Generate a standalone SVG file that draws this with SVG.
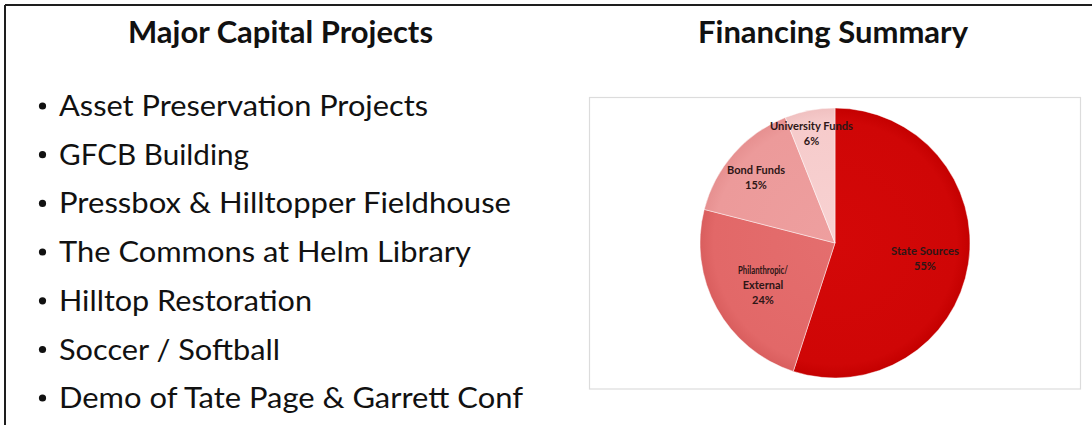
<svg xmlns="http://www.w3.org/2000/svg" width="1092" height="425" viewBox="0 0 1092 425">
  <style>
    .title { font-family: Lato, "Open Sans", "Liberation Sans", sans-serif; font-weight: bold; font-size: 30px; fill: #111; }
    .item { font-family: Lato, "Open Sans", "Liberation Sans", sans-serif; font-size: 28px; fill: #111; }
    .bullet { fill: #111; }
    .lbl { font-family: Lato, "Open Sans", "Liberation Sans", sans-serif; font-weight: bold; font-size: 11px; fill: #2e1616; text-anchor: middle; }
    .slice { stroke: #ffffff; stroke-opacity: 0.45; stroke-width: 1; }
  </style>
  <defs>
    <radialGradient id="gState" cx="835" cy="243" r="135" gradientUnits="userSpaceOnUse">
      <stop offset="0" stop-color="#d40808"/>
      <stop offset="0.9" stop-color="#cf0606"/>
      <stop offset="1" stop-color="#c40000"/>
    </radialGradient>
    <radialGradient id="gPhil" cx="835" cy="243" r="135" gradientUnits="userSpaceOnUse">
      <stop offset="0" stop-color="#e46e6e"/>
      <stop offset="0.9" stop-color="#e26868"/>
      <stop offset="1" stop-color="#d95e5e"/>
    </radialGradient>
    <radialGradient id="gBond" cx="835" cy="243" r="135" gradientUnits="userSpaceOnUse">
      <stop offset="0" stop-color="#ee9f9f"/>
      <stop offset="0.9" stop-color="#ec9a9a"/>
      <stop offset="1" stop-color="#e69090"/>
    </radialGradient>
    <radialGradient id="gUniv" cx="835" cy="243" r="135" gradientUnits="userSpaceOnUse">
      <stop offset="0" stop-color="#f8d2d2"/>
      <stop offset="0.9" stop-color="#f6cbcb"/>
      <stop offset="1" stop-color="#f0c0c0"/>
    </radialGradient>
  </defs>

  <rect x="0" y="0" width="1092" height="425" fill="#ffffff"/>

  <!-- slide frame -->
  <g id="frame" fill="none" stroke="#1e1e1e" stroke-width="2">
    <path d="M5,5 H1092"/>
    <path d="M5,5 V425"/>
  </g>

  <!-- titles -->
  <g id="title-left">
    <text class="title" x="128" y="43" textLength="305" lengthAdjust="spacingAndGlyphs">Major Capital Projects</text>
  </g>
  <g id="title-right">
    <text class="title" x="698" y="43" textLength="270" lengthAdjust="spacingAndGlyphs">Financing Summary</text>
  </g>

  <!-- bullet list -->
  <g id="list">
    <g id="item1"><circle class="bullet" cx="42.5" cy="106" r="3.6"/><text class="item" x="59" y="116" textLength="369" lengthAdjust="spacingAndGlyphs">Asset Preservation Projects</text></g>
    <g id="item2"><circle class="bullet" cx="42.5" cy="154.7" r="3.6"/><text class="item" x="59" y="164.7" textLength="190" lengthAdjust="spacingAndGlyphs">GFCB Building</text></g>
    <g id="item3"><circle class="bullet" cx="42.5" cy="203.4" r="3.6"/><text class="item" x="59" y="213.4" textLength="452" lengthAdjust="spacingAndGlyphs">Pressbox &amp; Hilltopper Fieldhouse</text></g>
    <g id="item4"><circle class="bullet" cx="42.5" cy="252" r="3.6"/><text class="item" x="59" y="262" textLength="412" lengthAdjust="spacingAndGlyphs">The Commons at Helm Library</text></g>
    <g id="item5"><circle class="bullet" cx="42.5" cy="300.8" r="3.6"/><text class="item" x="59" y="310.8" textLength="253" lengthAdjust="spacingAndGlyphs">Hilltop Restoration</text></g>
    <g id="item6"><circle class="bullet" cx="42.5" cy="349.5" r="3.6"/><text class="item" x="59" y="359.5" textLength="221" lengthAdjust="spacingAndGlyphs">Soccer / Softball</text></g>
    <g id="item7"><circle class="bullet" cx="42.5" cy="398" r="3.6"/><text class="item" x="59" y="408" textLength="464" lengthAdjust="spacingAndGlyphs">Demo of Tate Page &amp; Garrett Conf</text></g>
  </g>

  <!-- chart -->
  <g id="chart">
    <rect x="589.5" y="97.5" width="491" height="291.5" fill="#ffffff" stroke="#dcdcdc" stroke-width="1.2"/>
    <g id="slice-state">
      <path class="slice" fill="url(#gState)" d="M835,243 L835,108 A135,135 0 1 1 793.28,371.39 Z"/>
      <text class="lbl" x="925" y="255" textLength="68" lengthAdjust="spacingAndGlyphs">State Sources</text>
      <text class="lbl" x="925" y="270">55%</text>
    </g>
    <g id="slice-phil">
      <path class="slice" fill="url(#gPhil)" d="M835,243 L793.28,371.39 A135,135 0 0 1 704.24,209.43 Z"/>
      <text class="lbl" x="763" y="273.5" textLength="50" lengthAdjust="spacingAndGlyphs">Philanthropic/</text>
      <text class="lbl" x="763" y="288.5">External</text>
      <text class="lbl" x="763" y="303.5">24%</text>
    </g>
    <g id="slice-bond">
      <path class="slice" fill="url(#gBond)" d="M835,243 L704.24,209.43 A135,135 0 0 1 785.30,117.48 Z"/>
      <text class="lbl" x="756" y="173.5" textLength="58" lengthAdjust="spacingAndGlyphs">Bond Funds</text>
      <text class="lbl" x="756" y="188.5">15%</text>
    </g>
    <g id="slice-univ">
      <path class="slice" fill="url(#gUniv)" d="M835,243 L785.30,117.48 A135,135 0 0 1 835,108 Z"/>
      <text class="lbl" x="811.5" y="129.5" textLength="83" lengthAdjust="spacingAndGlyphs">University Funds</text>
      <text class="lbl" x="811.5" y="145">6%</text>
    </g>
  </g>
</svg>
